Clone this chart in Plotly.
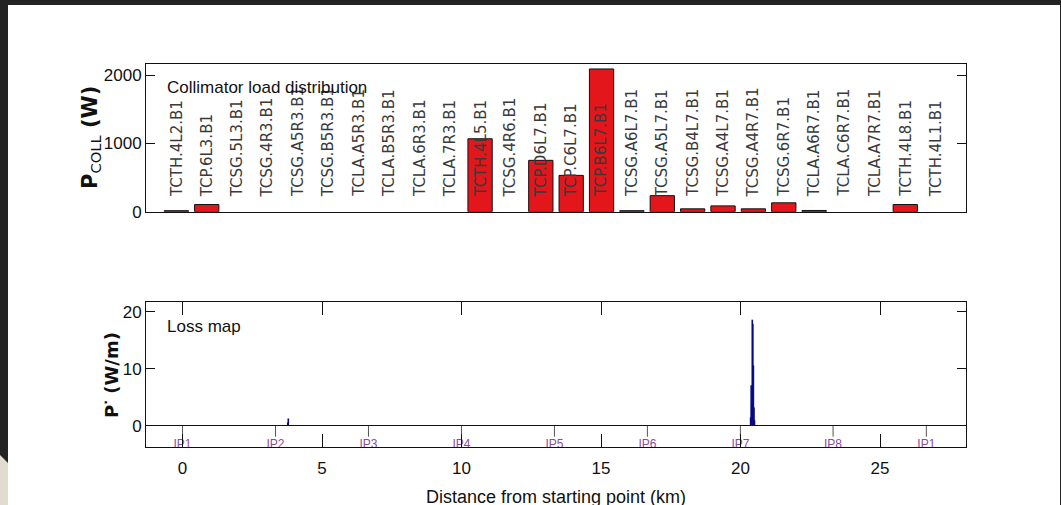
import plotly.graph_objects as go

# Collimator names (beam 1) and the power deposited on each
collimators = [
    "TCTH.4L2.B1", "TCP.6L3.B1", "TCSG.5L3.B1", "TCSG.4R3.B1", "TCSG.A5R3.B1",
    "TCSG.B5R3.B1", "TCLA.A5R3.B1", "TCLA.B5R3.B1", "TCLA.6R3.B1", "TCLA.7R3.B1",
    "TCTH.4L5.B1", "TCSG.4R6.B1", "TCP.D6L7.B1", "TCP.C6L7.B1", "TCP.B6L7.B1",
    "TCSG.A6L7.B1", "TCSG.A5L7.B1", "TCSG.B4L7.B1", "TCSG.A4L7.B1", "TCSG.A4R7.B1",
    "TCSG.6R7.B1", "TCLA.A6R7.B1", "TCLA.C6R7.B1", "TCLA.A7R7.B1", "TCTH.4L8.B1",
    "TCTH.4L1.B1",
]
coll_power_w = [
    15, 105, 0, 0, 0,
    0, 0, 0, 0, 0,
    1068, 0, 752, 532, 2090,
    15, 235, 42, 85, 42,
    130, 18, 0, 0, 105,
    0,
]

# Loss map: distance along the ring (km) and power per metre (W/m)
loss_km = [3.77, 3.79, 20.36, 20.38, 20.40, 20.42, 20.44, 20.46, 20.48, 20.50]
loss_wpm = [0.6, 1.3, 1.5, 7.1, 4.0, 18.6, 17.9, 10.6, 3.2, 1.0]

# Interaction points
ip_names = ["IP1", "IP2", "IP3", "IP4", "IP5", "IP6", "IP7", "IP8", "IP1"]
ip_km = [0.0, 3.332, 6.664, 9.997, 13.329, 16.661, 19.994, 23.315, 26.659]

x_ticks = [0, 5, 10, 15, 20, 25]
top_y_ticks = [0, 1000, 2000]
bot_y_ticks = [0, 10, 20]

W, H = 1061, 505
SANS = "Liberation Sans, Arial, sans-serif"
WIDE = "DejaVu Sans, sans-serif"
INK = "#111111"


def px_x(px):
    return px / W


def px_y(py):
    return 1 - py / H


bar_idx = list(range(1, len(collimators) + 1))
# empty collimators get no outline so they leave no mark on the axis
bar_edges = [INK if v > 0 else "rgba(0,0,0,0)" for v in coll_power_w]

fig = go.Figure()

fig.add_trace(go.Bar(
    x=bar_idx, y=coll_power_w, width=0.8,
    marker=dict(color="#e3161b", line=dict(color=bar_edges, width=1)),
    xaxis="x", yaxis="y", showlegend=False,
))

# Loss map stems
stem_x, stem_y = [], []
for km, v in zip(loss_km, loss_wpm):
    stem_x += [km, km, None]
    stem_y += [0, v, None]
fig.add_trace(go.Scatter(
    x=stem_x, y=stem_y, mode="lines",
    line=dict(color="#0a0a82", width=1.6),
    xaxis="x2", yaxis="y2", showlegend=False,
))

# IP markers below the zero line
ip_x, ip_y = [], []
for km in ip_km:
    ip_x += [km, km, None]
    ip_y += [0, -1.9, None]
fig.add_trace(go.Scatter(
    x=ip_x, y=ip_y, mode="lines",
    line=dict(color="#555555", width=1),
    xaxis="x2", yaxis="y2", showlegend=False,
))
fig.add_trace(go.Scatter(
    x=ip_km, y=[-3.3] * len(ip_km), mode="text", text=ip_names,
    textposition="middle center",
    textfont=dict(family=SANS, size=12, color="#8a4c9c"),
    xaxis="x2", yaxis="y2", showlegend=False, cliponaxis=False,
))

axis_common = dict(
    showline=True, linecolor=INK, linewidth=1, mirror="ticks",
    ticks="inside", tickcolor=INK, showgrid=False, zeroline=False,
    automargin=False,
    tickfont=dict(family=SANS, size=17, color=INK),
)

annotations = []
for i, name in zip(bar_idx, collimators):
    annotations.append(dict(
        x=i, y=185, xref="x", yref="y", text=name, textangle=-90,
        xanchor="center", yanchor="bottom", showarrow=False,
        font=dict(family=WIDE, size=15, color="#3a3a3a"),
    ))

annotations += [
    dict(x=px_x(165), y=px_y(88), xref="paper", yref="paper",
         text="Collimator load distribution", xanchor="left", yanchor="middle",
         showarrow=False, font=dict(family=SANS, size=17, color=INK)),
    dict(x=px_x(165), y=px_y(326), xref="paper", yref="paper",
         text="Loss map", xanchor="left", yanchor="middle",
         showarrow=False, font=dict(family=SANS, size=17, color=INK)),
    dict(x=px_x(91), y=px_y(138), xref="paper", yref="paper",
         text="<b>P</b><sub>COLL</sub><b> (W)</b>", textangle=-90,
         xanchor="center", yanchor="middle", showarrow=False,
         font=dict(family=WIDE, size=21, color=INK)),
    dict(x=px_x(110), y=px_y(375), xref="paper", yref="paper",
         text="<b>P<sup>·</sup> (W/m)</b>", textangle=-90,
         xanchor="center", yanchor="middle", showarrow=False,
         font=dict(family=WIDE, size=18, color=INK)),
    dict(x=px_x(556), y=px_y(497), xref="paper", yref="paper",
         text="Distance from starting point (km)", xanchor="center",
         yanchor="middle", showarrow=False,
         font=dict(family=SANS, size=18, color=INK)),
]

shapes = [
    dict(type="rect", xref="paper", yref="paper", x0=0, x1=1,
         y0=px_y(5), y1=1, fillcolor="#232323", line=dict(width=0), layer="above"),
    dict(type="rect", xref="paper", yref="paper", x0=0, x1=px_x(8),
         y0=0, y1=1, fillcolor="#232323", line=dict(width=0), layer="above"),
    dict(type="rect", xref="paper", yref="paper", x0=px_x(1060), x1=1,
         y0=0, y1=1, fillcolor="#232323", line=dict(width=0), layer="above"),
    dict(type="path", xref="paper", yref="paper",
         path=f"M 0 {px_y(455)} L {px_x(8)} {px_y(463)} L {px_x(8)} 0 L 0 0 Z",
         fillcolor="#e2dbd0", line=dict(width=0), layer="above"),
]

fig.update_layout(
    width=W, height=H,
    margin=dict(l=0, r=0, t=0, b=0),
    paper_bgcolor="white", plot_bgcolor="white",
    showlegend=False,
    xaxis=dict(domain=[px_x(146), px_x(966)], range=[0, 27],
               showline=True, linecolor=INK, linewidth=1, mirror=True,
               ticks="", showticklabels=False, showgrid=False, zeroline=False,
               automargin=False, anchor="y"),
    yaxis=dict(domain=[px_y(211.7), px_y(63.5)], range=[0, 2170],
               tickvals=top_y_ticks, ticklen=9, anchor="x", **axis_common),
    xaxis2=dict(domain=[px_x(146), px_x(966)], range=[-1.31, 28.08],
                tickvals=x_ticks, ticklen=13, anchor="y2",
                ticklabelstandoff=6, **axis_common),
    yaxis2=dict(domain=[px_y(447), px_y(302)], range=[-3.7, 21.7],
                tickvals=bot_y_ticks, ticklen=9, anchor="x2", **axis_common),
    annotations=annotations,
    shapes=shapes,
)
fig.update_yaxes(selector=dict(anchor="x2"), zeroline=True,
                 zerolinecolor=INK, zerolinewidth=1)

fig.write_html("out.html")
